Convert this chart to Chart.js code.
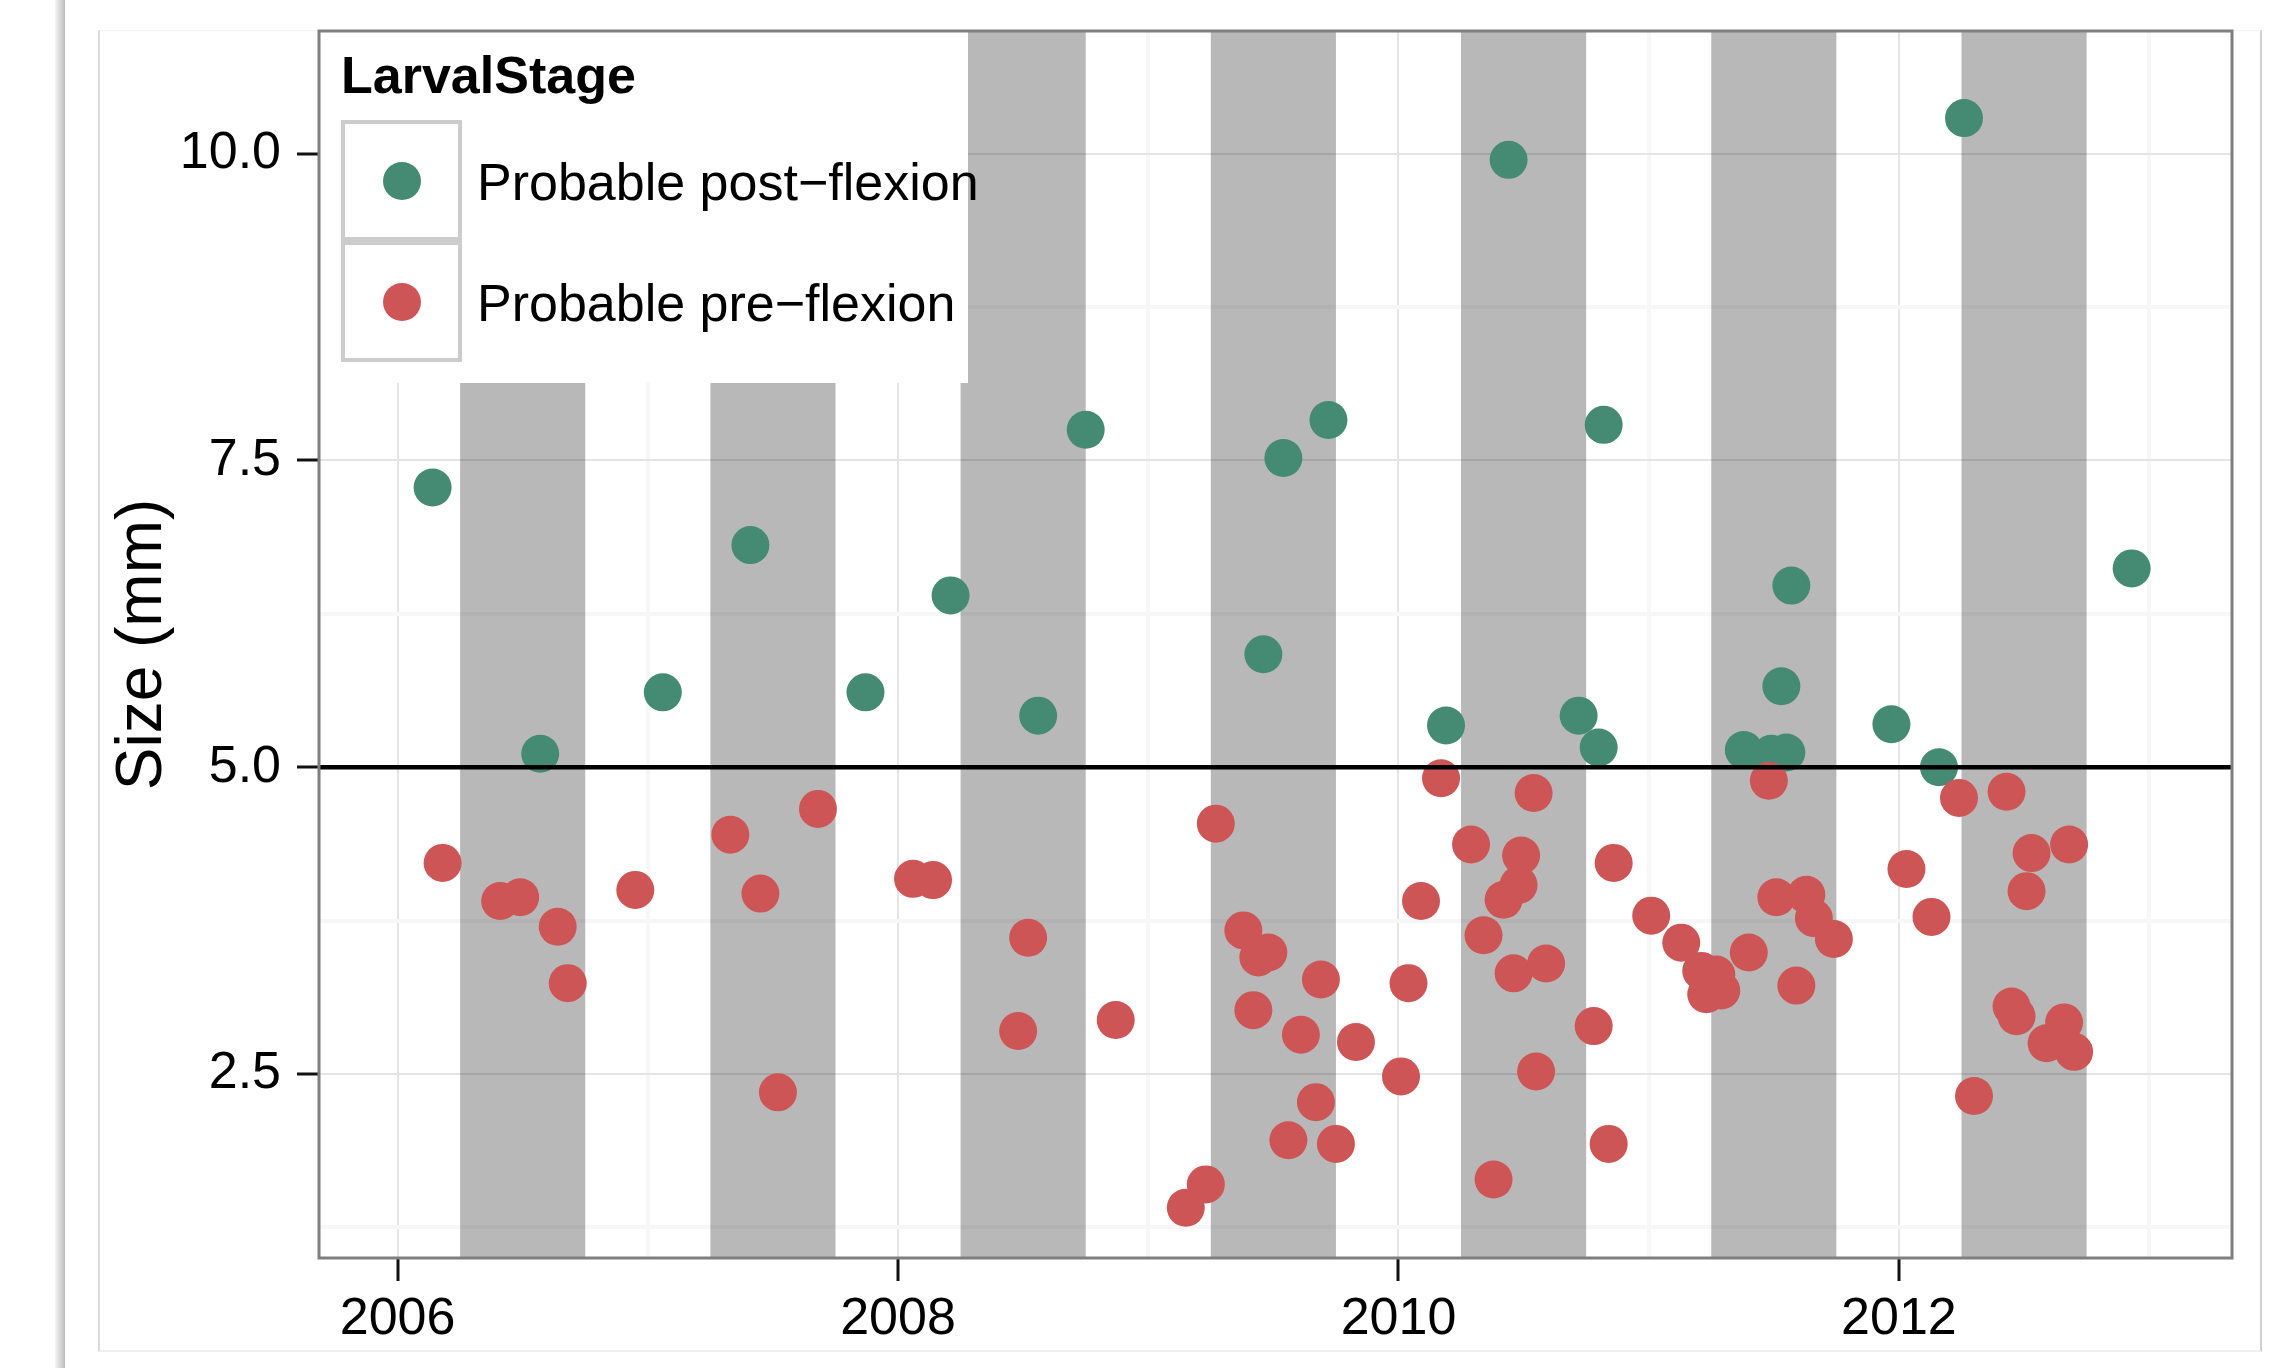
<!DOCTYPE html>
<html>
<head>
<meta charset="utf-8">
<title>Larval size by date</title>
<script src="https://cdn.jsdelivr.net/npm/chart.js@4.4.1/dist/chart.umd.min.js"></script>
<style>
  html, body { margin: 0; padding: 0; background: #ffffff; }
  body { width: 2291px; height: 1368px; position: relative; overflow: hidden; }
  .strip { position: absolute; left: 55px; top: 0; width: 10px; height: 1368px;
           background: linear-gradient(to right, #f3f3f3, #bdbdbd); }
  .card { position: absolute; left: 98px; top: 30px; width: 2160px; height: 1319px;
          border-left: 2px solid #dadada; border-right: 2px solid #d0d0d0;
          border-top: 1px solid #f4f4f4; border-bottom: 2px solid #f0f0f0; background: #ffffff; }
  canvas { position: absolute; left: 0; top: 0; }
</style>
</head>
<body>
<div class="strip"></div>
<div class="card"></div>
<canvas id="chart" width="2291" height="1368"></canvas>
<script>
// Probable post-flexion larvae: sampling date (decimal year) and size (mm)
const postYear = [2006.14, 2006.57, 2007.06, 2007.41, 2007.87, 2008.21, 2008.56, 2008.75,
  2009.46, 2009.54, 2009.72, 2010.19, 2010.44, 2010.72, 2010.80, 2010.82, 2011.38, 2011.49,
  2011.55, 2011.53, 2011.57, 2011.97, 2012.16, 2012.26, 2012.93];
const postSize = [7.28, 5.11, 5.61, 6.81, 5.61, 6.40, 5.42, 7.75,
  5.92, 7.52, 7.83, 5.34, 9.95, 5.42, 5.16, 7.79, 5.14, 5.11,
  5.12, 5.66, 6.48, 5.35, 5.00, 10.29, 6.62];

// Probable pre-flexion larvae
const preYear = [2006.18, 2006.41, 2006.49, 2006.64, 2006.68, 2006.95, 2007.33, 2007.45,
  2007.52, 2007.68, 2008.06, 2008.14, 2008.48, 2008.52, 2008.87, 2009.15, 2009.23, 2009.27,
  2009.38, 2009.42, 2009.44, 2009.48, 2009.56, 2009.61, 2009.67, 2009.69, 2009.75, 2009.83,
  2010.01, 2010.04, 2010.09, 2010.17, 2010.29, 2010.34, 2010.38, 2010.42, 2010.46, 2010.48,
  2010.49, 2010.54, 2010.55, 2010.59, 2010.78, 2010.84, 2010.86, 2011.01, 2011.13, 2011.21,
  2011.23, 2011.27, 2011.29, 2011.40, 2011.48, 2011.51, 2011.59, 2011.63, 2011.66, 2011.74,
  2012.03, 2012.13, 2012.24, 2012.30, 2012.43, 2012.45, 2012.47, 2012.51, 2012.53, 2012.59,
  2012.66, 2012.68, 2012.70];
const preSize = [4.22, 3.91, 3.94, 3.70, 3.24, 4.00, 4.45, 3.97,
  2.35, 4.66, 4.09, 4.08, 2.85, 3.61, 2.94, 1.41, 1.60, 4.54,
  3.67, 3.02, 3.45, 3.49, 1.96, 2.82, 2.27, 3.27, 1.93, 2.76,
  2.48, 3.24, 3.91, 4.91, 4.37, 3.63, 1.64, 3.92, 3.32, 4.04,
  4.28, 4.79, 2.52, 3.40, 2.89, 1.93, 4.22, 3.79, 3.57, 3.34,
  3.15, 3.31, 3.18, 3.49, 4.89, 3.94, 3.22, 3.96, 3.77, 3.60,
  4.17, 3.78, 4.75, 2.32, 4.80, 3.05, 2.97, 3.99, 4.30, 2.75,
  2.92, 4.37, 2.68];

// Shaded seasons (April to October of each year)
const bandStart = [2006.25, 2007.25, 2008.25, 2009.25, 2010.25, 2011.25, 2012.25];
const bandEnd   = [2006.75, 2007.75, 2008.75, 2009.75, 2010.75, 2011.75, 2012.75];

// Reference size separating the two stages
const refSize = 5.0;

// Axis ticks: grid positions and the subset that carries labels
const xGridYears  = [2006, 2007, 2008, 2009, 2010, 2011, 2012, 2013];
const xLabelYears = [2006, 2008, 2010, 2012];
const yGridValues = [1.25, 2.5, 3.75, 5.0, 6.25, 7.5, 8.75, 10.0];
const yLabelValues = [2.5, 5.0, 7.5, 10.0];

const legendTitle = 'LarvalStage';
const stageLabels = ['Probable post\u2212flexion', 'Probable pre\u2212flexion'];
const stageColors = ['#458B74', '#CD5555'];

const FONT = "'Liberation Sans', Arial, Helvetica, sans-serif";
Chart.defaults.font.family = FONT;
Chart.defaults.color = '#000000';

const toPoints = (xs, ys) => xs.map((v, i) => ({ x: v, y: ys[i] }));

const seasonBands = {
  id: 'seasonBands',
  beforeDatasetsDraw(chart) {
    const { ctx, chartArea: a, scales: { x } } = chart;
    ctx.save();
    ctx.fillStyle = 'rgba(0,0,0,0.278)';
    bandStart.forEach((s, i) => {
      const x0 = x.getPixelForValue(s);
      const x1 = x.getPixelForValue(bandEnd[i]);
      ctx.fillRect(x0, a.top, x1 - x0, a.bottom - a.top);
    });
    ctx.restore();
  }
};

const refLine = {
  id: 'refLine',
  afterDatasetsDraw(chart) {
    const { ctx, chartArea: a, scales: { y } } = chart;
    const py = y.getPixelForValue(refSize);
    ctx.save();
    ctx.strokeStyle = '#000000';
    ctx.lineWidth = 4.5;
    ctx.beginPath();
    ctx.moveTo(a.left, py);
    ctx.lineTo(a.right, py);
    ctx.stroke();
    ctx.restore();
  }
};

// Legend box inside the top-left corner of the panel, then the panel frame
const panelOverlay = {
  id: 'panelOverlay',
  afterDraw(chart) {
    const { ctx, chartArea: a } = chart;
    ctx.save();
    ctx.fillStyle = '#ffffff';
    ctx.fillRect(a.left, a.top, 968 - a.left, 383 - a.top);

    ctx.fillStyle = '#000000';
    ctx.textAlign = 'left';
    ctx.textBaseline = 'alphabetic';
    ctx.font = 'bold 52px ' + FONT;
    ctx.fillText(legendTitle, 341, 93);

    const keyTops = [120, 241];
    chart.data.datasets.forEach((ds, i) => {
      const top = keyTops[i];
      ctx.fillStyle = '#ffffff';
      ctx.fillRect(343, top + 2, 117, 117);
      ctx.strokeStyle = '#cccccc';
      ctx.lineWidth = 4;
      ctx.strokeRect(343, top + 2, 117, 117);
      ctx.fillStyle = ds.backgroundColor;
      ctx.beginPath();
      ctx.arc(402, top + 61, 19, 0, Math.PI * 2);
      ctx.fill();
      ctx.fillStyle = '#000000';
      ctx.font = '52px ' + FONT;
      ctx.fillText(ds.label, 477, top + 80);
    });

    ctx.strokeStyle = '#7f7f7f';
    ctx.lineWidth = 3;
    ctx.strokeRect(a.left, a.top, a.right - a.left, a.bottom - a.top);
    ctx.restore();
  }
};

new Chart(document.getElementById('chart'), {
  type: 'scatter',
  data: {
    datasets: [
      { label: stageLabels[0], data: toPoints(postYear, postSize),
        backgroundColor: stageColors[0], pointRadius: 19, pointBorderWidth: 0, order: 1 },
      { label: stageLabels[1], data: toPoints(preYear, preSize),
        backgroundColor: stageColors[1], pointRadius: 19, pointBorderWidth: 0, order: 0 }
    ]
  },
  options: {
    responsive: false,
    animation: false,
    devicePixelRatio: 1,
    events: [],
    layout: { padding: { top: 31, right: 59, bottom: 0, left: 0 } },
    plugins: { legend: { display: false }, tooltip: { enabled: false } },
    scales: {
      x: {
        type: 'linear',
        min: 2005.686,
        max: 2013.331,
        afterBuildTicks: s => { s.ticks = xGridYears.map(v => ({ value: v })); },
        afterFit: s => { s.height = 110; s.paddingLeft = 0; s.paddingRight = 0; },
        border: { display: false },
        grid: {
          color: c => xLabelYears.includes(c.tick.value) ? '#e5e5e5' : '#f7f7f7',
          lineWidth: c => xLabelYears.includes(c.tick.value) ? 2 : 4,
          tickColor: c => xLabelYears.includes(c.tick.value) ? '#111111' : 'rgba(0,0,0,0)',
          tickWidth: 3,
          tickLength: 23
        },
        ticks: {
          autoSkip: false,
          maxRotation: 0,
          padding: 7,
          color: '#000000',
          font: { size: 52 },
          callback: v => xLabelYears.includes(v) ? String(v) : ''
        }
      },
      y: {
        type: 'linear',
        min: 1.0,
        max: 11.0,
        afterBuildTicks: s => { s.ticks = yGridValues.map(v => ({ value: v })); },
        afterFit: s => { s.width = 319; s.paddingTop = 0; s.paddingBottom = 0; },
        border: { display: false },
        grid: {
          color: c => yLabelValues.includes(c.tick.value) ? '#e5e5e5' : '#f7f7f7',
          lineWidth: c => yLabelValues.includes(c.tick.value) ? 2 : 4,
          tickColor: c => yLabelValues.includes(c.tick.value) ? '#111111' : 'rgba(0,0,0,0)',
          tickWidth: 3,
          tickLength: 22
        },
        ticks: {
          autoSkip: false,
          padding: 16,
          color: '#000000',
          font: { size: 52 },
          callback: v => yLabelValues.includes(v) ? v.toFixed(1) : ''
        },
        title: {
          display: true,
          text: 'Size (mm)',
          color: '#000000',
          font: { size: 64 },
          padding: { top: 105, bottom: 0 }
        }
      }
    }
  },
  plugins: [seasonBands, refLine, panelOverlay]
});
</script>
</body>
</html>
